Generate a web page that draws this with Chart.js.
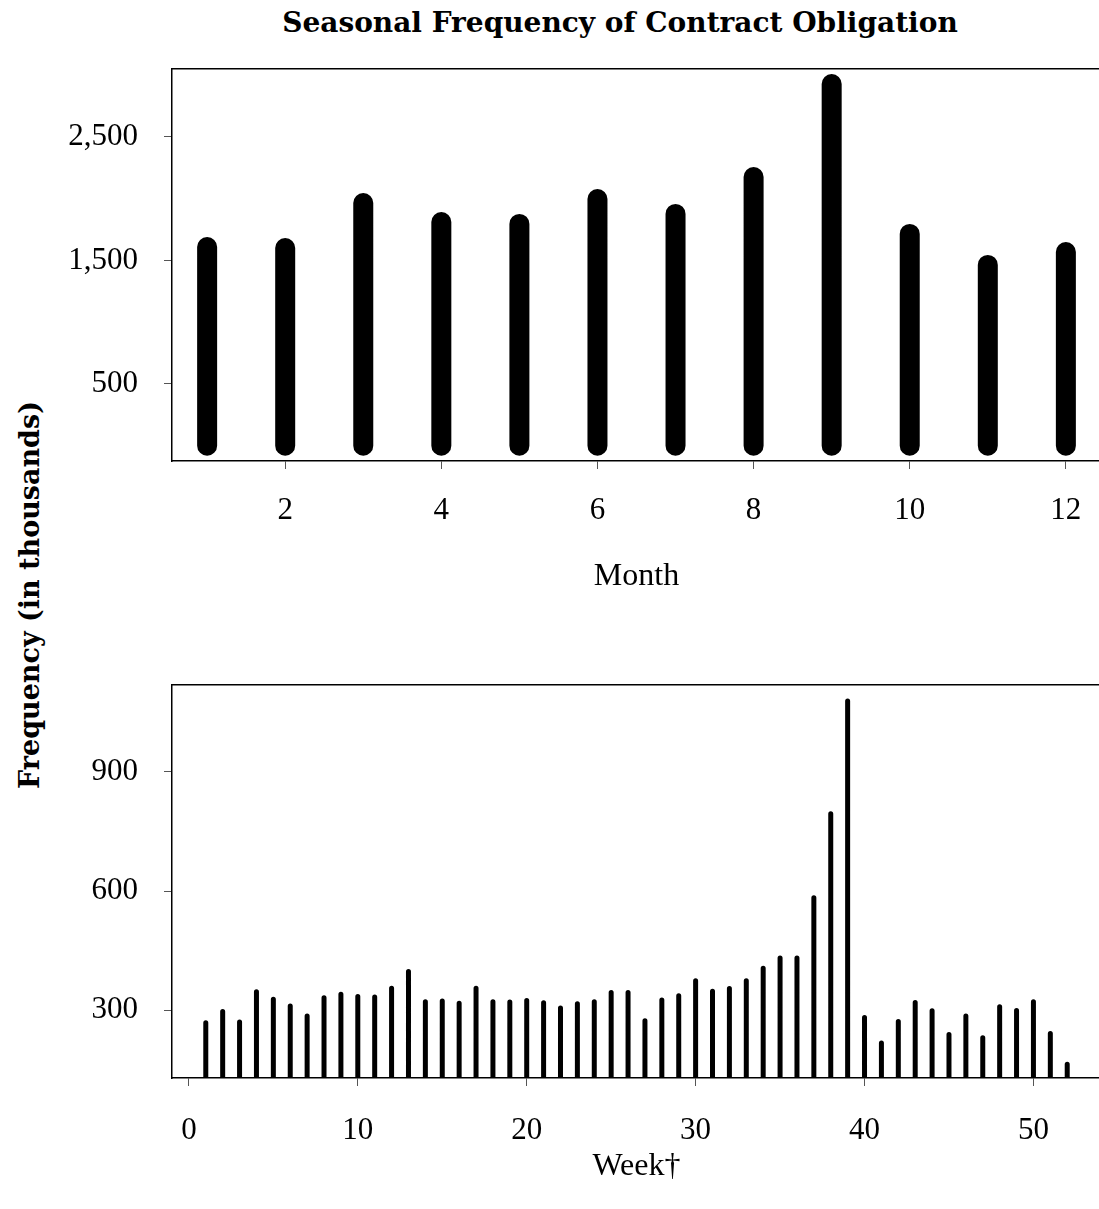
<!DOCTYPE html>
<html>
<head>
<meta charset="utf-8">
<script src="https://cdn.jsdelivr.net/npm/chart.js@4.4.1/dist/chart.umd.min.js"></script>
<style>
  html, body { margin: 0; padding: 0; background: #fff; overflow: hidden; }
  body { width: 1099px; height: 1209px; position: relative; }
  canvas { position: absolute; left: 0; }
  #top { top: 0; }
  #bottom { top: 640px; }
  .titulo {
    position: absolute; left: 220px; top: 8px; width: 800px;
    text-align: center; font: bold 28px "DejaVu Serif"; line-height: 30px; color: #000;
  }
  .ylabel {
    position: absolute; left: -220px; top: 578px; width: 500px; height: 34px;
    text-align: center; font: bold 27px "DejaVu Serif"; line-height: 34px; color: #000;
    transform: rotate(-90deg);
  }
</style>
</head>
<body>
<div class="titulo">Seasonal Frequency of Contract Obligation</div>
<div class="ylabel">Frequency (in thousands)</div>
<canvas id="top" width="1110" height="600"></canvas>
<canvas id="bottom" width="1110" height="550"></canvas>
<script>
// dados mensais (em milhares)
let months = [1, 2, 3, 4, 5, 6, 7, 8, 9, 10, 11, 12]
let monthValues = [1609, 1601, 1966, 1812, 1796, 1998, 1877, 2176, 2929, 1715, 1464, 1569]
let monthTicks = [2, 4, 6, 8, 10, 12]
let monthValueTicks = [500, 1500, 2500]

// dados semanais (em milhares)
let weeks = [1, 2, 3, 4, 5, 6, 7, 8, 9, 10, 11, 12, 13, 14, 15, 16, 17, 18, 19, 20,
  21, 22, 23, 24, 25, 26, 27, 28, 29, 30, 31, 32, 33, 34, 35, 36, 37, 38, 39, 40,
  41, 42, 43, 44, 45, 46, 47, 48, 49, 50, 51, 52]
let weekValues = [268, 296, 270, 346, 327, 310, 285, 331, 340, 334,
  333, 355, 397, 321, 323, 317, 355, 321, 320, 324,
  318, 305, 316, 321, 344, 344, 273, 325, 336, 374,
  347, 354, 374, 405, 431, 431, 583, 795, 1079, 281,
  217, 271, 319, 298, 238, 285, 230, 308, 299, 321,
  241, 163]
let weekTicks = [0, 10, 20, 30, 40, 50]
let weekValueTicks = [300, 600, 900]

Chart.defaults.color = '#000'
Chart.defaults.font.family = 'Liberation Serif'

// cada barra vira um segmento de linha de 0 ate o valor (com pontas redondas)
function stems(xs, ys) {
  let pts = []
  for (let i = 0; i < xs.length; i++) {
    pts.push({x: xs[i], y: 0}, {x: xs[i], y: ys[i]}, {x: xs[i], y: null})
  }
  return pts
}

function eixos(xRange, yRange, xTicks, yTicks, xTitle, xPad, xHeight) {
  let tickFont = {family: 'Liberation Serif', size: 31}
  let titleFont = {family: 'Liberation Serif', size: 32}
  return {
    x: {
      type: 'linear', position: 'bottom', min: xRange[0], max: xRange[1],
      afterBuildTicks: s => { s.ticks = xTicks.map(v => ({value: v})) },
      afterFit: s => { s.height = xHeight },
      grid: {drawOnChartArea: false, drawTicks: true, tickLength: 8, tickColor: '#555', lineWidth: 1},
      border: {display: true, color: '#000', width: 1.5},
      ticks: {font: tickFont, padding: xPad, maxRotation: 0, autoSkip: false},
      title: {display: true, text: xTitle, font: titleFont, padding: {top: 4, bottom: 4}}
    },
    x2: {
      type: 'linear', position: 'top', min: 0, max: 1,
      afterFit: s => { s.height = 0 },
      grid: {drawOnChartArea: false, drawTicks: false},
      border: {display: true, color: '#000', width: 1.5},
      ticks: {display: false}
    },
    y: {
      type: 'linear', min: yRange[0], max: yRange[1],
      afterBuildTicks: s => { s.ticks = yTicks.map(v => ({value: v})) },
      afterFit: s => { s.width = 172 },
      grid: {drawOnChartArea: false, drawTicks: true, tickLength: 8, tickColor: '#555', lineWidth: 1},
      border: {display: true, color: '#000', width: 1.5},
      ticks: {font: tickFont, padding: 26, callback: v => v.toLocaleString('en-US')}
    }
  }
}

// grafico de cima: por mes
new Chart(document.getElementById('top'), {
  type: 'line',
  data: {
    datasets: [{
      data: stems(months, monthValues),
      borderColor: '#000', borderWidth: 20, borderCapStyle: 'round',
      pointRadius: 0, tension: 0, spanGaps: false
    }]
  },
  options: {
    responsive: false, animation: false, devicePixelRatio: 1,
    layout: {padding: {top: 69, left: 0, right: 9, bottom: 0}},
    plugins: {legend: {display: false}, tooltip: {enabled: false}},
    scales: eixos([0.55, 12.45], [-123.5, 3050.6], monthTicks, monthValueTicks, 'Month', 23, 139)
  }
})

// grafico de baixo: por semana
new Chart(document.getElementById('bottom'), {
  type: 'line',
  data: {
    datasets: [{
      data: stems(weeks, weekValues),
      borderColor: '#000', borderWidth: 5, borderCapStyle: 'round',
      pointRadius: 0, tension: 0, spanGaps: false
    }]
  },
  options: {
    responsive: false, animation: false, devicePixelRatio: 1,
    layout: {padding: {top: 45, left: 0, right: 9, bottom: 0}},
    plugins: {legend: {display: false}, tooltip: {enabled: false}},
    scales: eixos([-1, 54], [128.6, 1119.3], weekTicks, weekValueTicks, 'Week†', 26, 112)
  }
})
</script>
</body>
</html>
